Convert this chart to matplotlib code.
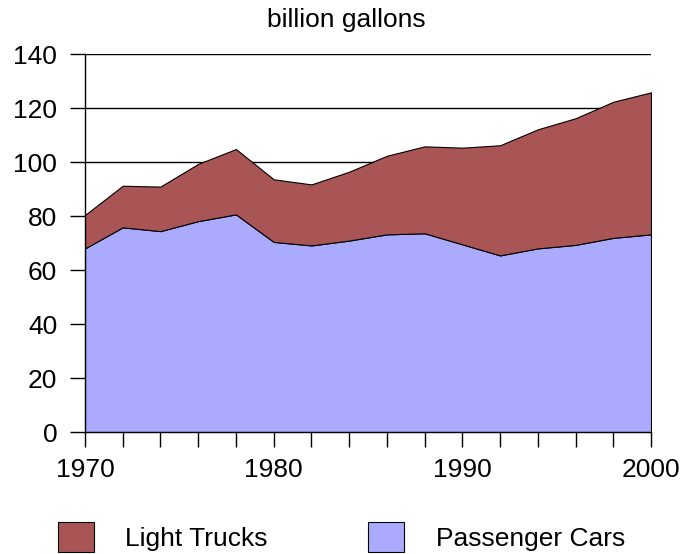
import matplotlib.pyplot as plt
import numpy as np

# Data (billion gallons)
years = [1970, 1972, 1974, 1976, 1978, 1980, 1982, 1984, 1986, 1988,
         1990, 1992, 1994, 1996, 1998, 2000]
cars = [68.0, 75.8, 74.4, 78.1, 80.6, 70.4, 69.1, 70.9, 73.2, 73.6,
        69.5, 65.4, 68.0, 69.3, 71.9, 73.2]
total = [80.4, 91.2, 90.9, 99.3, 104.8, 93.6, 91.7, 96.4, 102.3, 105.8,
         105.3, 106.2, 112.1, 116.2, 122.3, 125.8]
trucks = [t - c for t, c in zip(total, cars)]

plt.rcParams['font.family'] = ['Liberation Sans', 'DejaVu Sans']

fig = plt.figure(figsize=(6.83, 5.54), dpi=100)
ax = fig.add_axes([85 / 683, 1 - 432 / 554, (651 - 85) / 683, (432 - 54) / 554])

polys = ax.stackplot(years, cars, trucks,
                     colors=['#aaaaff', '#aa5555'],
                     edgecolor='black', linewidth=0.8)

ax.set_xlim(1970, 2000)
ax.set_ylim(0, 140)
ax.set_yticks(range(0, 141, 20))
ax.set_xticks(years)
ax.set_xticklabels([str(y) if y % 10 == 0 else '' for y in years])

ax.set_axisbelow(True)
ax.yaxis.grid(True, color='black', linewidth=1)
ax.tick_params(axis='both', labelsize=19, length=11, width=1, color='black')
ax.tick_params(axis='y', pad=9)
ax.tick_params(axis='x', pad=8)

for s in ['top', 'right']:
    ax.spines[s].set_visible(False)
ax.spines['left'].set_linewidth(1)
ax.spines['bottom'].set_linewidth(1)

fig.text(0.507, 1 - 20 / 554, 'billion gallons', ha='center', va='center',
         fontsize=19)

fig.legend([polys[1], polys[0]], ['Light Trucks', 'Passenger Cars'],
           loc='center', bbox_to_anchor=(0.5, 1 - 537 / 554), ncol=2,
           frameon=False, fontsize=19, handlelength=1.35, handleheight=1.35,
           handletextpad=1.2, columnspacing=3.8, borderpad=0)

plt.savefig('out.png', dpi=100)
